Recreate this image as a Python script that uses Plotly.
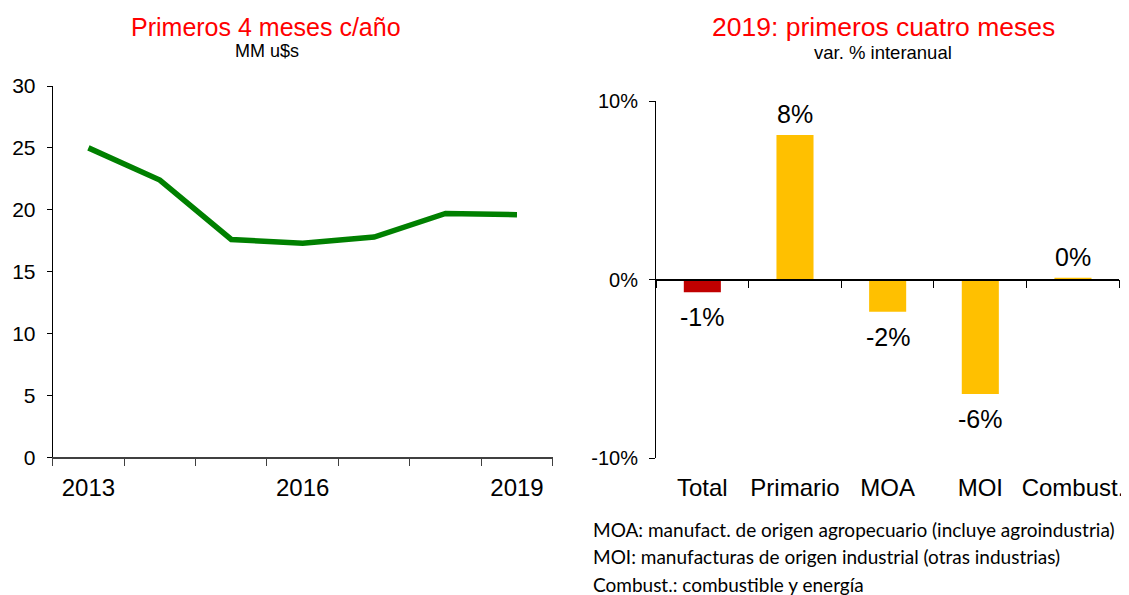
import plotly.graph_objects as go

# ---------------- data ----------------
years = ["2013", "2014", "2015", "2016", "2017", "2018", "2019"]
year_labels = ["2013", "", "", "2016", "", "", "2019"]
exports_bn = [25.0, 22.4, 17.6, 17.3, 17.8, 19.7, 19.6]

categories = ["Total", "Primario", "MOA", "MOI", "Combust."]
yoy_change = [-0.7, 8.1, -1.8, -6.4, 0.1]
bar_colors = ["#C00000", "#FFC000", "#FFC000", "#FFC000", "#FFC000"]

left_yticks = [0, 5, 10, 15, 20, 25, 30]
right_yticks = [-10, 0, 10]
right_yticktext = ["-10%", "0%", "10%"]

footnotes = [
    "MOA: manufact. de origen agropecuario (incluye agroindustria)",
    "MOI: manufacturas de origen industrial (otras industrias)",
    "Combust.: combustible y energía",
]

# the page body adds an 8px offset; compensate so screen pixels match
OFF = 8
W, H = 1129 - OFF, 595 - OFF
FONT = "Liberation Sans, Arial, sans-serif"


def px_x(p):
    return (p - OFF) / W


def px_y(p):
    return 1 - (p - OFF) / H


fig = go.Figure()

# left chart: line
fig.add_trace(go.Scatter(
    x=years, y=exports_bn, mode="lines",
    line=dict(color="#008000", width=5.5),
    xaxis="x", yaxis="y", showlegend=False, hoverinfo="skip",
))

# right chart: bars
fig.add_trace(go.Bar(
    x=categories, y=yoy_change, width=0.4,
    marker=dict(color=bar_colors, line=dict(width=0)),
    xaxis="x2", yaxis="y2", showlegend=False, hoverinfo="skip",
))

# invisible trace to host the zero-line axis of the right chart
fig.add_trace(go.Scatter(x=[], y=[], xaxis="x3", yaxis="y2",
                         showlegend=False, hoverinfo="skip"))

y2_dom = [px_y(458.3), px_y(101)]
y2_range = [-10, 10]
zero_pos = y2_dom[0] + (0 - y2_range[0]) / (y2_range[1] - y2_range[0]) * (y2_dom[1] - y2_dom[0])

# value labels
for c, v in zip(categories, yoy_change):
    fig.add_annotation(
        x=c, y=v, xref="x2", yref="y2", text=f"{round(v):.0f}%",
        showarrow=False, yanchor="middle",
        yshift=21 if v >= 0 else -25,
        font=dict(family=FONT, size=25, color="black"),
    )

# titles
titles = [
    (266, 26.7, "Primeros 4 meses c/año", 25, "#FF0000"),
    (267, 51, "MM u$s", 18, "black"),
    (883, 26.7, "2019: primeros cuatro meses", 26.5, "#FF0000"),
    (883, 53, "var. % interanual", 18.5, "black"),
]
for x, y, t, s, col in titles:
    fig.add_annotation(x=px_x(x), y=px_y(y), xref="paper", yref="paper",
                       text=t, showarrow=False, xanchor="center", yanchor="middle",
                       font=dict(family=FONT, size=s, color=col))

for i, t in enumerate(footnotes):
    fig.add_annotation(x=px_x(591), y=px_y(529 + 27.5 * i), xref="paper", yref="paper",
                       text=t, showarrow=False, xanchor="left", yanchor="middle",
                       font=dict(family="Lato, Carlito, sans-serif", size=19, color="black"))

fig.update_layout(
    width=W, height=H,
    margin=dict(l=0, r=0, t=0, b=0, autoexpand=False),
    paper_bgcolor="white", plot_bgcolor="white",
    showlegend=False,
    font=dict(family=FONT, color="black"),
    xaxis=dict(
        domain=[px_x(52.7), px_x(552.7)], anchor="y", automargin=False,
        type="category", range=[-0.5, 6.5],
        tickmode="array", tickvals=years, ticktext=year_labels,
        tickson="boundaries", ticks="outside", ticklen=7, tickcolor="#404040",
        showline=True, linecolor="#404040", linewidth=1.5,
        showgrid=False, zeroline=False,
        tickfont=dict(family=FONT, size=24), ticklabelstandoff=8,
    ),
    yaxis=dict(
        domain=[px_y(457.3), px_y(86)], anchor="x", automargin=False,
        range=[0, 30], tickvals=left_yticks,
        ticks="outside", ticklen=5, tickcolor="black",
        showline=True, linecolor="black", linewidth=1,
        showgrid=False, zeroline=False,
        tickfont=dict(family=FONT, size=21), ticklabelstandoff=7,
    ),
    xaxis2=dict(
        domain=[px_x(656), px_x(1119.3)], anchor="y2", automargin=False,
        type="category", range=[-0.5, 4.5],
        showline=False, ticks="", showgrid=False, zeroline=False,
        tickfont=dict(family=FONT, size=24), ticklabelstandoff=13,
    ),
    xaxis3=dict(
        domain=[px_x(656), px_x(1119.3)], overlaying="x2", automargin=False,
        anchor="free", position=zero_pos,
        type="linear", range=[-0.5, 4.5],
        tickmode="array", tickvals=[-0.5, 0.5, 1.5, 2.5, 3.5, 4.5],
        ticks="outside", ticklen=8, tickcolor="black",
        showline=True, linecolor="black", linewidth=1.5,
        showticklabels=False, showgrid=False, zeroline=False,
    ),
    yaxis2=dict(
        domain=y2_dom, anchor="x2", automargin=False,
        range=y2_range, tickvals=right_yticks, ticktext=right_yticktext,
        ticks="outside", ticklen=6, tickcolor="black",
        showline=True, linecolor="black", linewidth=1,
        showgrid=False, zeroline=False,
        tickfont=dict(family=FONT, size=20), ticklabelstandoff=7,
    ),
)

fig.write_html("out.html")
